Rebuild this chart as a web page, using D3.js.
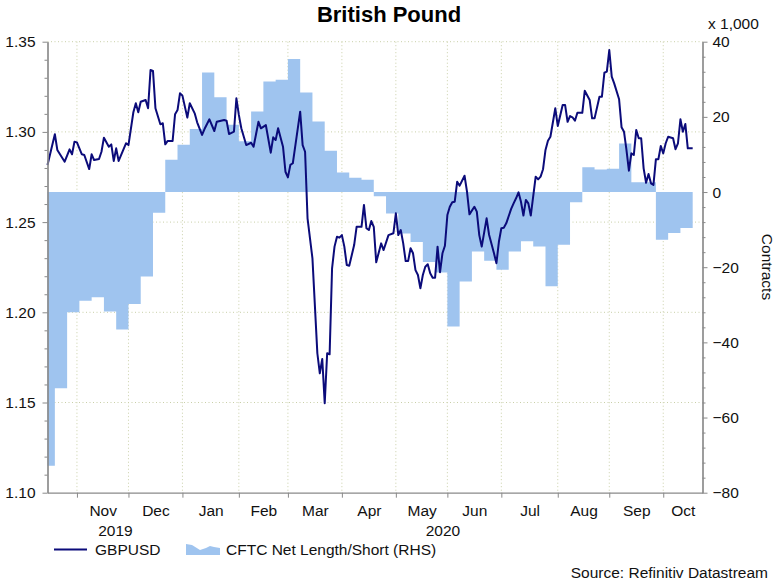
<!DOCTYPE html>
<html><head><meta charset="utf-8">
<script src="https://cdn.jsdelivr.net/npm/d3@7"></script>
<style>
body{margin:0;background:#fff;}
svg{font-family:"Liberation Sans",Arial,sans-serif;}
</style></head>
<body><svg id="c" width="776" height="581"></svg>
<script>
// ---------- DATA ----------
const gbpusd = [
["2019-10-16",1.2816],["2019-10-21",1.2987],["2019-10-22",1.2900],["2019-10-25",1.2835],
["2019-10-29",1.2903],["2019-10-30",1.2876],["2019-10-31",1.2946],["2019-11-01",1.2942],
["2019-11-05",1.2876],["2019-11-06",1.2872],["2019-11-08",1.2794],["2019-11-11",1.2876],
["2019-11-12",1.2844],["2019-11-14",1.2850],["2019-11-15",1.2890],["2019-11-18",1.2968],
["2019-11-20",1.2918],["2019-11-21",1.2931],["2019-11-22",1.2839],["2019-11-25",1.2909],
["2019-11-26",1.2839],["2019-11-29",1.2937],["2019-12-02",1.2927],["2019-12-04",1.3109],
["2019-12-05",1.3159],["2019-12-06",1.3109],["2019-12-09",1.3167],["2019-12-11",1.3177],
["2019-12-12",1.3131],["2019-12-13",1.3343],["2019-12-16",1.3338],["2019-12-17",1.3131],
["2019-12-19",1.3042],["2019-12-20",1.3048],["2019-12-23",1.2931],["2019-12-24",1.2950],
["2019-12-26",1.2950],["2019-12-27",1.3098],["2019-12-30",1.3121],["2019-12-31",1.3214],
["2020-01-01",1.3201],["2020-01-03",1.3079],["2020-01-06",1.3159],["2020-01-08",1.3103],
["2020-01-09",1.3053],["2020-01-13",1.2983],["2020-01-14",1.3016],["2020-01-16",1.3070],
["2020-01-20",1.3005],["2020-01-21",1.3056],["2020-01-24",1.3066],["2020-01-27",1.3062],
["2020-01-28",1.2988],["2020-01-30",1.3001],["2020-01-31",1.3186],["2020-02-03",1.3094],
["2020-02-04",1.3020],["2020-02-06",1.2927],["2020-02-10",1.2940],["2020-02-11",1.2918],
["2020-02-13",1.3056],["2020-02-14",1.3020],["2020-02-18",1.3038],["2020-02-20",1.2885],
["2020-02-21",1.2970],["2020-02-24",1.2955],["2020-02-25",1.3020],["2020-02-27",1.2918],
["2020-02-28",1.2779],["2020-03-02",1.2748],["2020-03-03",1.2817],["2020-03-04",1.2826],
["2020-03-09",1.3112],["2020-03-10",1.2927],["2020-03-11",1.2890],["2020-03-12",1.2521],
["2020-03-16",1.2299],["2020-03-18",1.1773],["2020-03-19",1.1662],["2020-03-20",1.1741],
["2020-03-23",1.1496],["2020-03-24",1.1773],["2020-03-25",1.1767],["2020-03-26",1.2244],
["2020-03-27",1.2364],["2020-03-30",1.2419],["2020-03-31",1.2414],["2020-04-01",1.2428],
["2020-04-02",1.2364],["2020-04-03",1.2262],["2020-04-06",1.2258],["2020-04-08",1.2373],
["2020-04-09",1.2474],["2020-04-13",1.2474],["2020-04-14",1.2595],["2020-04-15",1.2466],
["2020-04-16",1.2456],["2020-04-17",1.2506],["2020-04-20",1.2474],["2020-04-21",1.2277],
["2020-04-23",1.2382],["2020-04-24",1.2345],["2020-04-28",1.2428],["2020-04-30",1.2438],
["2020-05-01",1.2549],["2020-05-04",1.2428],["2020-05-05",1.2456],["2020-05-06",1.2382],
["2020-05-07",1.2284],["2020-05-08",1.2284],["2020-05-11",1.2355],["2020-05-12",1.2327],
["2020-05-13",1.2234],["2020-05-14",1.2207],["2020-05-15",1.2133],["2020-05-18",1.2207],
["2020-05-19",1.2253],["2020-05-20",1.2266],["2020-05-21",1.2216],["2020-05-22",1.2192],
["2020-05-25",1.2192],["2020-05-26",1.2364],["2020-05-27",1.2222],["2020-05-28",1.2327],
["2020-05-29",1.2369],["2020-06-01",1.2539],["2020-06-02",1.2585],["2020-06-03",1.2610],
["2020-06-04",1.2613],["2020-06-05",1.2724],["2020-06-08",1.2702],["2020-06-10",1.2757],
["2020-06-11",1.2669],["2020-06-12",1.2543],["2020-06-16",1.2585],["2020-06-17",1.2558],
["2020-06-18",1.2428],["2020-06-19",1.2364],["2020-06-23",1.2521],["2020-06-24",1.2430],
["2020-06-26",1.2327],["2020-06-29",1.2272],["2020-06-30",1.2391],["2020-07-01",1.2466],
["2020-07-02",1.2469],["2020-07-03",1.2493],["2020-07-07",1.2573],["2020-07-08",1.2604],
["2020-07-09",1.2632],["2020-07-10",1.2665],["2020-07-13",1.2613],["2020-07-14",1.2536],
["2020-07-15",1.2623],["2020-07-16",1.2604],["2020-07-17",1.2536],["2020-07-21",1.2752],
["2020-07-22",1.2737],["2020-07-23",1.2752],["2020-07-24",1.2793],["2020-07-27",1.2900],
["2020-07-28",1.2951],["2020-07-29",1.2973],["2020-07-31",1.3131],["2020-08-03",1.3033],
["2020-08-05",1.3149],["2020-08-06",1.3149],["2020-08-07",1.3056],["2020-08-10",1.3088],
["2020-08-11",1.3081],["2020-08-12",1.3062],["2020-08-13",1.3106],["2020-08-17",1.3106],
["2020-08-18",1.3228],["2020-08-20",1.3177],["2020-08-21",1.3075],["2020-08-24",1.3075],
["2020-08-26",1.3195],["2020-08-27",1.3195],["2020-08-28",1.3328],["2020-08-31",1.3334],
["2020-09-01",1.3454],["2020-09-02",1.3306],["2020-09-03",1.3269],["2020-09-07",1.3181],
["2020-09-08",1.3026],["2020-09-09",1.3001],["2020-09-10",1.2900],["2020-09-11",1.2785],
["2020-09-14",1.2881],["2020-09-15",1.2872],["2020-09-16",1.3011],["2020-09-17",1.2965],
["2020-09-18",1.2965],["2020-09-21",1.2798],["2020-09-22",1.2718],["2020-09-23",1.2767],
["2020-09-24",1.2715],["2020-09-25",1.2706],["2020-09-28",1.2848],["2020-09-29",1.2848],
["2020-09-30",1.2922],["2020-10-01",1.2881],["2020-10-02",1.2937],["2020-10-05",1.2973],
["2020-10-07",1.2965],["2020-10-08",1.2904],["2020-10-09",1.2937],["2020-10-12",1.3070],
["2020-10-13",1.3001],["2020-10-14",1.3044],["2020-10-15",1.2909],["2020-10-19",1.2909]
];

// CFTC net length/short, thousands of contracts, weekly (week start dates)
const cftcWeeks = ["2019-10-16","2019-10-21","2019-10-28","2019-11-04","2019-11-11","2019-11-18",
"2019-11-25","2019-12-02","2019-12-09","2019-12-16","2019-12-23","2019-12-30","2020-01-06",
"2020-01-13","2020-01-20","2020-01-27","2020-02-03","2020-02-10","2020-02-17","2020-02-24",
"2020-03-02","2020-03-09","2020-03-16","2020-03-23","2020-03-30","2020-04-06","2020-04-13",
"2020-04-20","2020-04-27","2020-05-04","2020-05-11","2020-05-18","2020-05-25","2020-06-01",
"2020-06-08","2020-06-15","2020-06-22","2020-06-29","2020-07-06","2020-07-13","2020-07-20",
"2020-07-27","2020-08-03","2020-08-10","2020-08-17","2020-08-24","2020-08-31","2020-09-07",
"2020-09-14","2020-09-21","2020-09-28","2020-10-05","2020-10-12"];
const cftcValues = [-72.8,-52.2,-32.0,-28.9,-28.0,-31.8,-36.6,-29.8,-22.5,-5.5,8.6,12.6,16.8,
31.8,25.2,17.9,13.5,21.4,29.4,29.9,35.4,26.5,18.8,11.0,5.2,3.8,3.3,-1.1,-5.7,-11.0,-13.3,
-18.6,-21.4,-35.8,-23.8,-15.8,-18.3,-20.7,-15.8,-13.1,-14.5,-25.1,-14.0,-2.7,6.6,6.0,6.2,
12.9,2.6,2.6,-12.7,-10.9,-9.6];
const seriesEnd = "2020-10-19";
const axisEnd = "2020-10-23";

const leftTicks = [1.10,1.15,1.20,1.25,1.30,1.35];
const rightTicks = [-80,-60,-40,-20,0,20,40];
const monthLabels = ["Nov","Dec","Jan","Feb","Mar","Apr","May","Jun","Jul","Aug","Sep","Oct"];
const monthStarts = ["2019-11-01","2019-12-01","2020-01-01","2020-02-01","2020-03-01","2020-04-01",
"2020-05-01","2020-06-01","2020-07-01","2020-08-01","2020-09-01","2020-10-01"];
const yearLabels = ["2019","2020"];
const yearStarts = ["2019-10-16","2020-01-01"];

// ---------- HELPERS ----------
const parse = d3.utcParse("%Y-%m-%d");
const origin = parse("2019-10-16");
function bd(s){ // business-day index from origin
  let dt = parse(s);
  while (dt.getUTCDay()===0 || dt.getUTCDay()===6) dt = d3.utcDay.offset(dt,1);
  const days = d3.utcDay.count(origin, dt);
  const weeks = Math.floor(days/7);
  let n = weeks*5, dow = origin.getUTCDay();
  for (let i=0;i<days-weeks*7;i++){ dow=(dow+1)%7; if(dow!==0&&dow!==6) n++; }
  return n;
}

// ---------- LAYOUT ----------
const svg = d3.select("#c");
const L=47.5, R=702.5, T=41.7, B=492.7;
const x = d3.scaleLinear().domain([0, bd(axisEnd)]).range([L,R]);
const yL = d3.scaleLinear().domain([1.10,1.35]).range([B,T]);
const yR = d3.scaleLinear().domain([-80,40]).range([B,T]);
const axisCol="#8a8a8a", txtCol="#111";
const gridCol="#c9cfa8";

// gridlines
const g = svg.append("g");
g.selectAll(".vg").data(monthStarts).join("line")
  .attr("x1",d=>x(bd(d))).attr("x2",d=>x(bd(d))).attr("y1",T).attr("y2",B)
  .attr("stroke",gridCol).attr("stroke-dasharray","1,2.5").attr("stroke-width",1);
g.selectAll(".hg").data(leftTicks.slice(1)).join("line")
  .attr("x1",L).attr("x2",R).attr("y1",d=>yL(d)).attr("y2",d=>yL(d))
  .attr("stroke",gridCol).attr("stroke-dasharray","1,2.5").attr("stroke-width",1);

// CFTC area (steps)
const cftc = cftcWeeks.map((d,i)=>({i:bd(d), v:cftcValues[i]}));
cftc.push({i:bd(seriesEnd), v:cftcValues[cftcValues.length-1]});
const area = d3.area().curve(d3.curveStepAfter)
  .x(d=>x(d.i)).y0(yR(0)).y1(d=>yR(d.v));
svg.append("path").datum(cftc).attr("d",area).attr("fill","#9fc4ef");

// GBPUSD line
const line = d3.line().x(d=>x(bd(d[0]))).y(d=>yL(d[1]));
svg.append("path").datum(gbpusd).attr("d",line).attr("fill","none")
  .attr("stroke","#0b0b7a").attr("stroke-width",2).attr("stroke-linejoin","round");

// axes
function styleAxis(sel){
  sel.selectAll(".domain").attr("stroke",axisCol).attr("stroke-width",1.2);
  sel.selectAll(".tick line").attr("stroke",axisCol);
  sel.selectAll("text").attr("fill",txtCol).style("font-size","15.5px")
    .style("font-family","'Liberation Sans',Arial,sans-serif");
}
const minorL = d3.range(110,136).map(v=>v/100).filter(v=>Math.round(v*100)%5!==0);
svg.append("g").attr("transform",`translate(${L},0)`)
  .call(d3.axisLeft(yL).tickValues(minorL).tickSize(3).tickFormat("").tickSizeOuter(0)).call(styleAxis);
svg.append("g").attr("transform",`translate(${L},0)`)
  .call(d3.axisLeft(yL).tickValues(leftTicks).tickSize(5).tickPadding(7).tickFormat(d3.format(".2f")).tickSizeOuter(0))
  .call(styleAxis);
const minorR = d3.range(-80,41,4).filter(v=>v%20!==0);
svg.append("g").attr("transform",`translate(${R},0)`)
  .call(d3.axisRight(yR).tickValues(minorR).tickSize(3).tickFormat("").tickSizeOuter(0)).call(styleAxis);
svg.append("g").attr("transform",`translate(${R},0)`)
  .call(d3.axisRight(yR).tickValues(rightTicks).tickSize(5).tickPadding(5).tickSizeOuter(0))
  .call(styleAxis);
// x axis ticks at month boundaries
svg.append("g").attr("transform",`translate(0,${B})`)
  .call(d3.axisBottom(x).tickValues(monthStarts.map(bd)).tickSize(5).tickFormat("").tickSizeOuter(0))
  .call(styleAxis);
// month labels centred in each month
const mEdges = monthStarts.map(bd).concat([bd(axisEnd)]);
const mMids = monthLabels.map((m,i)=>(mEdges[i]+mEdges[i+1])/2);
svg.append("g").attr("transform",`translate(0,${B})`)
  .call(d3.axisBottom(x).tickValues(mMids).tickSize(0).tickPadding(12)
    .tickFormat((d,i)=>monthLabels[i]))
  .call(styleAxis).call(s=>s.select(".domain").remove());
// year labels
const yEdges = yearStarts.map(bd).concat([bd(axisEnd)]);
const yMids = yearLabels.map((m,i)=>(Math.max(yEdges[i],0)+yEdges[i+1])/2);
svg.append("g").attr("transform",`translate(0,${B})`)
  .call(d3.axisBottom(x).tickValues(yMids).tickSize(0).tickPadding(32)
    .tickFormat((d,i)=>yearLabels[i]))
  .call(styleAxis).call(s=>s.select(".domain").remove());

// titles & labels
svg.append("text").attr("x",389).attr("y",22).attr("text-anchor","middle")
  .style("font-size","22px").style("font-weight","bold").attr("fill","#000").text("British Pound");
svg.append("text").attr("x",708).attr("y",29).style("font-size","15.5px").attr("fill",txtCol).text("x 1,000");
svg.append("text").attr("transform","translate(762,267) rotate(90)").attr("text-anchor","middle")
  .style("font-size","15.5px").attr("fill",txtCol).text("Contracts");

// legend
svg.append("line").attr("x1",54).attr("x2",87).attr("y1",549.5).attr("y2",549.5)
  .attr("stroke","#0b0b7a").attr("stroke-width",2);
svg.append("text").attr("x",95).attr("y",555).style("font-size","15.5px").attr("fill",txtCol).text("GBPUSD");
svg.append("path").attr("d","M186,544 L192,545 L200,550 L206,548 L210,546 L214,547 L220,548 L220,555 L186,555 Z")
  .attr("fill","#9fc4ef");
svg.append("text").attr("x",226).attr("y",555).style("font-size","15.5px").attr("fill",txtCol)
  .text("CFTC Net Length/Short (RHS)");
svg.append("text").attr("x",768).attr("y",578).attr("text-anchor","end").style("font-size","15.5px")
  .attr("fill",txtCol).text("Source: Refinitiv Datastream");
</script></body></html>
